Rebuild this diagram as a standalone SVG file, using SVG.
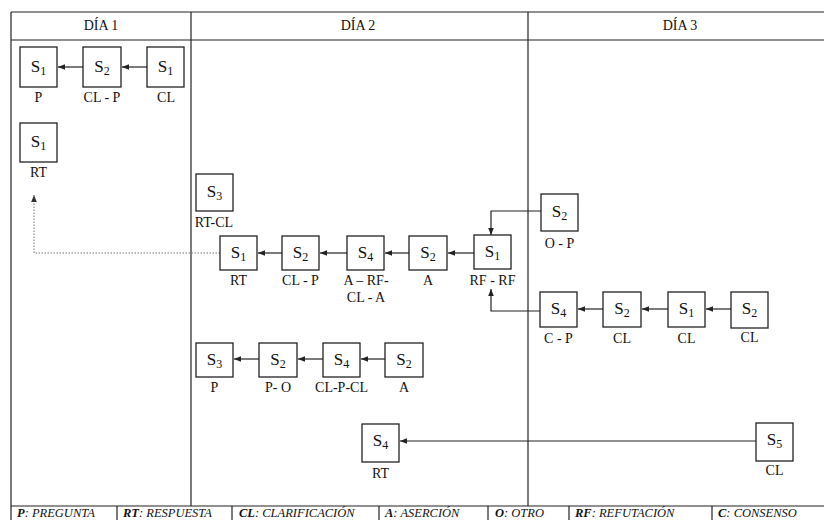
<svg xmlns="http://www.w3.org/2000/svg" width="824" height="520" viewBox="0 0 824 520" font-family="'Liberation Serif','Times New Roman',serif">
<defs>
<style>
.grid{stroke:#222;stroke-width:1.2;fill:none}
.box rect{fill:#fff;stroke:#222;stroke-width:1.3}
.box text,.lbl{font-family:'Liberation Serif','Times New Roman',serif;fill:#111}
.s{font-size:17px;text-anchor:middle}
.sub{font-size:12px}
.lbl{font-size:14px;text-anchor:middle}
.hdr{font-family:'Liberation Serif','Times New Roman',serif;font-size:14px;text-anchor:middle;fill:#111}
.leg{font-family:'Liberation Serif','Times New Roman',serif;font-size:12.5px;font-style:italic;fill:#111}
.leg tspan.b{font-weight:bold}
.conn{stroke:#222;stroke-width:1.2;fill:none}
.dot{stroke:#777;stroke-width:1;stroke-dasharray:1.5 1.5;fill:none}
</style>
<marker id="ah" viewBox="0 0 8 8" refX="8" refY="4" markerWidth="7" markerHeight="7" markerUnits="userSpaceOnUse" orient="auto">
<path d="M0,0.8 L8,4 L0,7.2 Z" fill="#222"/>
</marker>
<marker id="ahd" viewBox="0 0 8 8" refX="8" refY="4" markerWidth="7" markerHeight="7" markerUnits="userSpaceOnUse" orient="auto">
<path d="M0,0.8 L8,4 L0,7.2 Z" fill="#333"/>
</marker>
</defs>
<rect width="824" height="520" fill="#fff"/>
<g id="table">
<line class="grid" x1="11" y1="12" x2="824" y2="12"/>
<line class="grid" x1="11" y1="40" x2="824" y2="40"/>
<line class="grid" x1="11" y1="506" x2="824" y2="506"/>
<line class="grid" x1="11" y1="12" x2="11" y2="520"/>
<line class="grid" x1="191" y1="12" x2="191" y2="506"/>
<line class="grid" x1="528" y1="12" x2="528" y2="506"/>
<line class="grid" x1="117" y1="506" x2="117" y2="520"/>
<line class="grid" x1="232" y1="506" x2="232" y2="520"/>
<line class="grid" x1="379" y1="506" x2="379" y2="520"/>
<line class="grid" x1="488" y1="506" x2="488" y2="520"/>
<line class="grid" x1="569" y1="506" x2="569" y2="520"/>
<line class="grid" x1="712" y1="506" x2="712" y2="520"/>
<text class="hdr" x="101" y="30">DÍA 1</text>
<text class="hdr" x="358" y="30">DÍA 2</text>
<text class="hdr" x="680" y="30">DÍA 3</text>
</g>
<g id="legend">
<text class="leg" x="17" y="516.5"><tspan class="b">P</tspan>: PREGUNTA</text>
<text class="leg" x="123" y="516.5"><tspan class="b">RT</tspan>: RESPUESTA</text>
<text class="leg" x="239" y="516.5"><tspan class="b">CL</tspan>: CLARIFICACIÓN</text>
<text class="leg" x="385" y="516.5"><tspan class="b">A</tspan>: ASERCIÓN</text>
<text class="leg" x="495" y="516.5"><tspan class="b">O</tspan>: OTRO</text>
<text class="leg" x="575" y="516.5"><tspan class="b">RF</tspan>: REFUTACIÓN</text>
<text class="leg" x="718" y="516.5"><tspan class="b">C</tspan>: CONSENSO</text>
</g>
<g id="connectors">
<line class="conn" x1="83" y1="67" x2="58" y2="67" marker-end="url(#ah)"/>
<line class="conn" x1="147" y1="67" x2="122" y2="67" marker-end="url(#ah)"/>
<polyline class="dot" points="220,253 34,253 34,195" marker-end="url(#ahd)"/>
<line class="conn" x1="282" y1="253" x2="258" y2="253" marker-end="url(#ah)"/>
<line class="conn" x1="347" y1="253" x2="320" y2="253" marker-end="url(#ah)"/>
<line class="conn" x1="409" y1="253" x2="385" y2="253" marker-end="url(#ah)"/>
<line class="conn" x1="474" y1="253" x2="448" y2="253" marker-end="url(#ah)"/>
<polyline class="conn" points="541,211 491,211 491,235" marker-end="url(#ah)"/>
<polyline class="conn" points="540,311 491,311 491,289" marker-end="url(#ah)"/>
<line class="conn" x1="603" y1="309" x2="578" y2="309" marker-end="url(#ah)"/>
<line class="conn" x1="668" y1="309" x2="642" y2="309" marker-end="url(#ah)"/>
<line class="conn" x1="731" y1="309" x2="706" y2="309" marker-end="url(#ah)"/>
<line class="conn" x1="259" y1="359" x2="234" y2="359" marker-end="url(#ah)"/>
<line class="conn" x1="323" y1="359" x2="298" y2="359" marker-end="url(#ah)"/>
<line class="conn" x1="385" y1="359" x2="361" y2="359" marker-end="url(#ah)"/>
<line class="conn" x1="756" y1="441" x2="400" y2="441" marker-end="url(#ah)"/>
</g>
<g id="d1_s1_p" class="box"><rect x="20" y="47" width="37" height="40"/><text class="s" x="38.5" y="72">S<tspan class="sub" dy="3">1</tspan></text><text class="lbl" x="38.5" y="102">P</text></g>
<g id="d1_s2_clp" class="box"><rect x="83" y="47" width="38" height="40"/><text class="s" x="102" y="72">S<tspan class="sub" dy="3">2</tspan></text><text class="lbl" x="102" y="102">CL - P</text></g>
<g id="d1_s1_cl" class="box"><rect x="147" y="47" width="37" height="40"/><text class="s" x="165.5" y="72">S<tspan class="sub" dy="3">1</tspan></text><text class="lbl" x="166" y="102">CL</text></g>
<g id="d1_s1_rt" class="box"><rect x="20" y="123" width="37" height="39"/><text class="s" x="38.5" y="147">S<tspan class="sub" dy="3">1</tspan></text><text class="lbl" x="38.5" y="177">RT</text></g>
<g id="d2_s3_rtcl" class="box"><rect x="196" y="174" width="37" height="37"/><text class="s" x="214.5" y="197">S<tspan class="sub" dy="3">3</tspan></text><text class="lbl" x="214" y="227">RT-CL</text></g>
<g id="d2_s1_rt" class="box"><rect x="220" y="236" width="37" height="34"/><text class="s" x="238.5" y="258">S<tspan class="sub" dy="3">1</tspan></text><text class="lbl" x="238.5" y="285">RT</text></g>
<g id="d2_s2_clp" class="box"><rect x="282" y="236" width="37" height="34"/><text class="s" x="300.5" y="258">S<tspan class="sub" dy="3">2</tspan></text><text class="lbl" x="300.5" y="285">CL - P</text></g>
<g id="d2_s4_arf" class="box"><rect x="347" y="236" width="37" height="34"/><text class="s" x="365.5" y="258">S<tspan class="sub" dy="3">4</tspan></text><text class="lbl" x="366" y="285">A – RF-</text><text class="lbl" x="366" y="302">CL - A</text></g>
<g id="d2_s2_a" class="box"><rect x="409" y="236" width="38" height="34"/><text class="s" x="428" y="258">S<tspan class="sub" dy="3">2</tspan></text><text class="lbl" x="428" y="285">A</text></g>
<g id="d2_s1_rfrf" class="box"><rect x="474" y="235" width="37" height="34"/><text class="s" x="492.5" y="257">S<tspan class="sub" dy="3">1</tspan></text><text class="lbl" x="492.5" y="285">RF - RF</text></g>
<g id="d3_s2_op" class="box"><rect x="541" y="194" width="37" height="37"/><text class="s" x="559.5" y="217">S<tspan class="sub" dy="3">2</tspan></text><text class="lbl" x="559.5" y="248">O - P</text></g>
<g id="d3_s4_cp" class="box"><rect x="540" y="292" width="37" height="35"/><text class="s" x="558.5" y="314">S<tspan class="sub" dy="3">4</tspan></text><text class="lbl" x="558.5" y="343">C - P</text></g>
<g id="d3_s2_cl" class="box"><rect x="603" y="292" width="38" height="35"/><text class="s" x="622" y="314">S<tspan class="sub" dy="3">2</tspan></text><text class="lbl" x="622" y="343">CL</text></g>
<g id="d3_s1_cl" class="box"><rect x="668" y="292" width="37" height="35"/><text class="s" x="686.5" y="314">S<tspan class="sub" dy="3">1</tspan></text><text class="lbl" x="686.5" y="343">CL</text></g>
<g id="d3_s2_cl2" class="box"><rect x="731" y="292" width="37" height="36"/><text class="s" x="749.5" y="314">S<tspan class="sub" dy="3">2</tspan></text><text class="lbl" x="749.5" y="342">CL</text></g>
<g id="d2_s3_p" class="box"><rect x="196" y="343" width="37" height="34"/><text class="s" x="214.5" y="365">S<tspan class="sub" dy="3">3</tspan></text><text class="lbl" x="214.5" y="392">P</text></g>
<g id="d2_s2_po" class="box"><rect x="259" y="343" width="38" height="34"/><text class="s" x="278" y="365">S<tspan class="sub" dy="3">2</tspan></text><text class="lbl" x="278" y="392">P- O</text></g>
<g id="d2_s4_clpcl" class="box"><rect x="323" y="343" width="37" height="34"/><text class="s" x="341.5" y="365">S<tspan class="sub" dy="3">4</tspan></text><text class="lbl" x="341.5" y="392">CL-P-CL</text></g>
<g id="d2_s2_a2" class="box"><rect x="385" y="343" width="38" height="34"/><text class="s" x="404" y="365">S<tspan class="sub" dy="3">2</tspan></text><text class="lbl" x="404" y="392">A</text></g>
<g id="d2_s4_rt" class="box"><rect x="362" y="424" width="37" height="38"/><text class="s" x="380.5" y="446">S<tspan class="sub" dy="3">4</tspan></text><text class="lbl" x="380.5" y="478">RT</text></g>
<g id="d3_s5_cl" class="box"><rect x="756" y="423" width="37" height="38"/><text class="s" x="774.5" y="445">S<tspan class="sub" dy="3">5</tspan></text><text class="lbl" x="774.5" y="475">CL</text></g>
</svg>
